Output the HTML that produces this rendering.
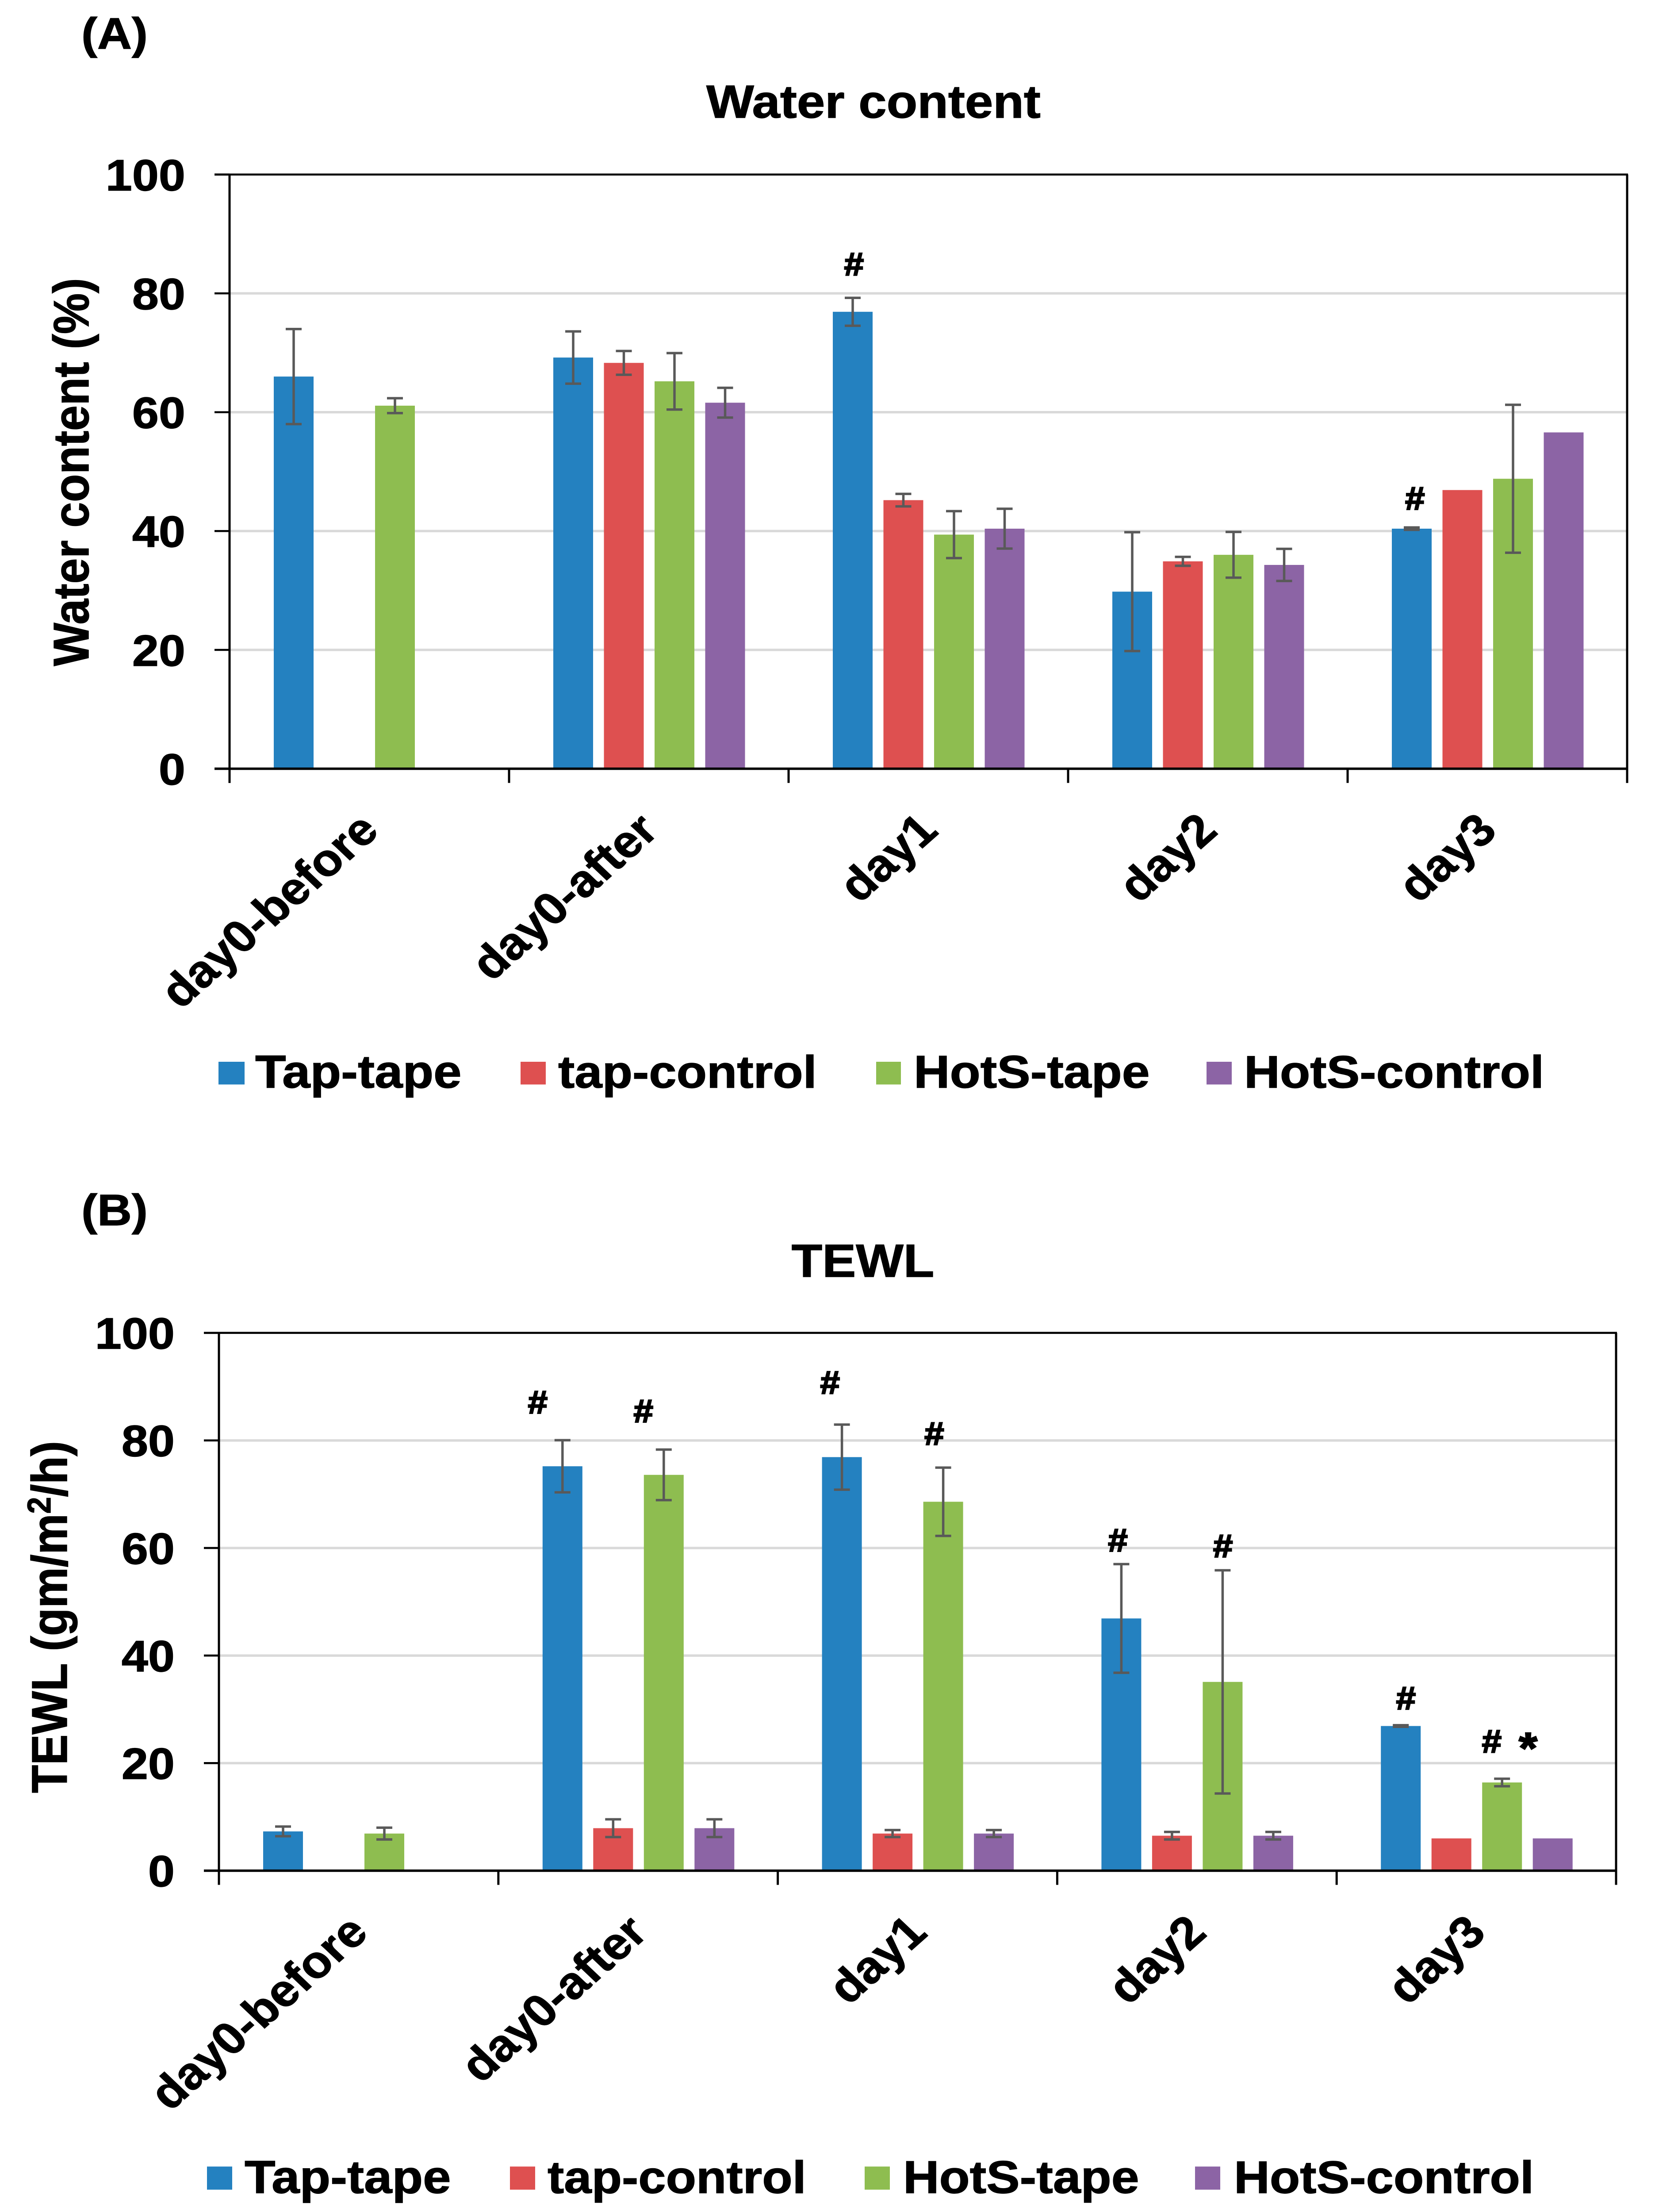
<!DOCTYPE html>
<html lang="en">
<head>
<meta charset="utf-8">
<title>Water content and TEWL</title>
<style>
html,body{margin:0;padding:0;background:#fff;width:100vw;height:100vh;overflow:hidden;}
svg{display:block;position:absolute;left:0;top:0;width:100vw;height:100vh;}
text{font-family:"Liberation Sans",Arial,sans-serif;font-weight:bold;fill:#000;stroke:#000;stroke-width:1.5px;}
</style>
</head>
<body>
<svg id="figure" xmlns="http://www.w3.org/2000/svg" viewBox="0 0 3742 5450" preserveAspectRatio="none">
  <rect x="0" y="0" width="3742" height="5450" fill="#ffffff"/>

  <text x="184" y="120" font-size="108">(A)</text>
  <text x="1975" y="290" font-size="114" text-anchor="middle">Water content</text>
  <text transform="translate(200,1163) rotate(-90)" font-size="113" text-anchor="middle">Water content (%)</text>
  <g id="chartA"></g>
  <g>
    <rect x="494" y="2616" width="59" height="56" fill="#2481c0"/>
    <text x="577" y="2680" font-size="114">Tap-tape</text>
    <rect x="1177" y="2616" width="57" height="56" fill="#de5050"/>
    <text x="1262" y="2680" font-size="112">tap-control</text>
    <rect x="1981" y="2616" width="56" height="56" fill="#8ebd50"/>
    <text x="2066" y="2680" font-size="113">HotS-tape</text>
    <rect x="2728" y="2616" width="57" height="56" fill="#8c64a5"/>
    <text x="2813" y="2680" font-size="112">HotS-control</text>
  </g>

  <text x="184" y="3019" font-size="108">(B)</text>
  <text x="1951" y="3146" font-size="114" text-anchor="middle">TEWL</text>
  <text transform="translate(151,3984) rotate(-90)" font-size="113" text-anchor="middle">TEWL (gm/m<tspan font-size="74" dy="-37">2</tspan><tspan dy="37">/h)</tspan></text>
  <g id="chartB"></g>
  <g>
    <rect x="468" y="5338" width="57" height="57" fill="#2481c0"/>
    <text x="553" y="5403" font-size="114">Tap-tape</text>
    <rect x="1153" y="5338" width="57" height="57" fill="#de5050"/>
    <text x="1238" y="5403" font-size="112">tap-control</text>
    <rect x="1955" y="5338" width="57" height="57" fill="#8ebd50"/>
    <text x="2042" y="5403" font-size="113">HotS-tape</text>
    <rect x="2702" y="5338" width="57" height="57" fill="#8c64a5"/>
    <text x="2790" y="5403" font-size="112">HotS-control</text>
  </g>
</svg>

<script>
// ---------- shared categories / ticks ----------
var categories = ["day0-before", "day0-after", "day1", "day2", "day3"];
var seriesNames = ["Tap-tape", "tap-control", "HotS-tape", "HotS-control"];
var yTicks = [0, 20, 40, 60, 80, 100];

// ---------- panel A: water content (%) ----------
var waterTapTape = [66.0, 69.2, 76.9, 29.8, 40.4];
var waterTapControl = [null, 68.3, 45.2, 34.9, 46.9];
var waterHotTape = [61.1, 65.2, 39.4, 36.0, 48.8];
var waterHotControl = [null, 61.6, 40.4, 34.3, 56.6];
var waterTapTapeErr = [8.0, 4.4, 2.35, 10.0, 0.2];
var waterTapControlErr = [null, 2.0, 1.05, 0.75, null];
var waterHotTapeErr = [1.25, 4.75, 3.95, 3.85, 12.45];
var waterHotControlErr = [null, 2.5, 3.35, 2.7, null];
var waterMarkSymbols = ["#", "#"];
var waterMarkCategory = [2.234, 4.241];
var waterMarkLevel = [83.06, 43.65];

// ---------- panel B: TEWL (gm/m2/h) ----------
var tewlTapTape = [7.3, 75.2, 76.9, 46.9, 26.9];
var tewlTapControl = [null, 7.9, 6.9, 6.5, 6.0];
var tewlHotTape = [6.9, 73.6, 68.6, 35.1, 16.4];
var tewlHotControl = [null, 7.9, 6.9, 6.5, 6.0];
var tewlTapTapeErr = [0.9, 4.85, 6.05, 10.1, 0.15];
var tewlTapControlErr = [null, 1.65, 0.65, 0.7, null];
var tewlHotTapeErr = [1.1, 4.7, 6.35, 20.75, 0.7];
var tewlHotControlErr = [null, 1.65, 0.65, 0.7, null];
var tewlMarkSymbols = ["#", "#", "#", "#", "#", "#", "#", "#", "*"];
var tewlMarkCategory = [1.141, 1.519, 2.187, 2.560, 3.217, 3.593, 4.248, 4.555, 4.685];
var tewlMarkLevel = [85.06, 83.4, 88.7, 79.2, 59.4, 58.3, 30.0, 22.0, 20.0];

var seriesColors = ["#2481c0", "#de5050", "#8ebd50", "#8c64a5"];
var SVGNS = "http://www.w3.org/2000/svg";

function make(tag, parent, attrs, content) {
  var el = document.createElementNS(SVGNS, tag);
  for (var k in attrs) { el.setAttribute(k, attrs[k]); }
  if (content !== undefined) { el.textContent = content; }
  parent.appendChild(el);
  return el;
}

function drawChart(root, frame, prefix, values, errors, marks) {
  var catW = (frame.right - frame.left) / categories.length;
  var barW = 90, barStep = 114.5, groupPad = 100;

  function yScale(v) {
    return frame.zero - (v / 100) * (frame.zero - frame.top);
  }
  function catX(c) {
    return frame.left + c * catW;
  }
  function barX(c, s) {
    return catX(c) + groupPad + s * barStep;
  }

  // gridlines
  yTicks.forEach(function (t) {
    if (t === 0 || t === 100) { return; }
    var g = make("line", root, {x1: frame.left, x2: frame.right, y1: yScale(t), y2: yScale(t), stroke: "#d9d9d9", "stroke-width": 6});
    
    
  });

  // bars
  values.forEach(function (series, s) {
    series.forEach(function (v, c) {
      if (v === null) { return; }
      var bar = make("rect", root, {x: barX(c, s), y: yScale(v), width: barW, height: frame.zero - yScale(v), fill: seriesColors[s]});
      
      
      bar.setAttribute('data-series', seriesNames[s]);
      bar.setAttribute('data-category', categories[c]);
    });
  });

  // error bars
  errors.forEach(function (series, s) {
    series.forEach(function (e, c) {
      if (e === null || values[s][c] === null) { return; }
      var cx = barX(c, s) + barW / 2;
      var hi = yScale(values[s][c] + e), lo = yScale(values[s][c] - e);
      var eg = make("g", root, {stroke: "#595959", fill: "none"});
      
      
      make("line", eg, {x1: cx, x2: cx, y1: hi, y2: lo, "stroke-width": 5.5});
      make("line", eg, {x1: cx - 18, x2: cx + 18, y1: hi, y2: hi, "stroke-width": 6});
      make("line", eg, {x1: cx - 18, x2: cx + 18, y1: lo, y2: lo, "stroke-width": 6});
    });
  });

  // frame (top, right) and axes
  var topLine = make("line", root, {x1: frame.left - 34, x2: frame.right + 2, y1: frame.top, y2: frame.top, stroke: "#000", "stroke-width": 5});
  
  
  var rightLine = make("line", root, {x1: frame.right, x2: frame.right, y1: frame.top, y2: frame.zero + 35, stroke: "#000", "stroke-width": 5});
  
  
  var yAxis = make("line", root, {x1: frame.left, x2: frame.left, y1: frame.top, y2: frame.zero + 35, stroke: "#000", "stroke-width": 5});
  
  
  var xAxis = make("line", root, {x1: frame.left - 34, x2: frame.right + 2, y1: frame.zero, y2: frame.zero, stroke: "#000", "stroke-width": 6});
  
  

  // y ticks and labels
  yTicks.forEach(function (t) {
    var tk = make("line", root, {x1: frame.left - 34, x2: frame.left, y1: yScale(t), y2: yScale(t), stroke: "#000", "stroke-width": 5});
    
    
    var lb = make("text", root, {x: frame.left - 100, y: yScale(t) + 39, "font-size": 108, "text-anchor": "end"}, String(t));
    
    
  });

  // x ticks
  for (var i = 0; i <= categories.length; i++) {
    var xt = make("line", root, {x1: catX(i), x2: catX(i), y1: frame.zero, y2: frame.zero + 35, stroke: "#000", "stroke-width": 5});
    
    
  }

  // x labels
  categories.forEach(function (name, c) {
    var lx = catX(c) + catW / 2 + 26, ly = frame.zero + 158;
    var xl = make("text", root, {x: lx, y: ly, "font-size": 111, "text-anchor": "end", transform: "rotate(-44 " + lx + " " + ly + ")"}, name);
    
    
  });

  // significance marks
  marks.symbols.forEach(function (sym, m) {
    var mk = make("text", root, {x: catX(marks.category[m]), y: yScale(marks.level[m]), "font-size": sym === "*" ? 108 : 80, "text-anchor": "middle", style: "stroke-width:3px"}, sym);
    
    
  });
}

drawChart(
  document.getElementById("chartA"),
  {left: 519, right: 3679, top: 430, zero: 1894},
  "water",
  [waterTapTape, waterTapControl, waterHotTape, waterHotControl],
  [waterTapTapeErr, waterTapControlErr, waterHotTapeErr, waterHotControlErr],
  {symbols: waterMarkSymbols, category: waterMarkCategory, level: waterMarkLevel}
);

drawChart(
  document.getElementById("chartB"),
  {left: 495, right: 3654, top: 3284, zero: 4609},
  "tewl",
  [tewlTapTape, tewlTapControl, tewlHotTape, tewlHotControl],
  [tewlTapTapeErr, tewlTapControlErr, tewlHotTapeErr, tewlHotControlErr],
  {symbols: tewlMarkSymbols, category: tewlMarkCategory, level: tewlMarkLevel}
);
</script>
</body>
</html>
